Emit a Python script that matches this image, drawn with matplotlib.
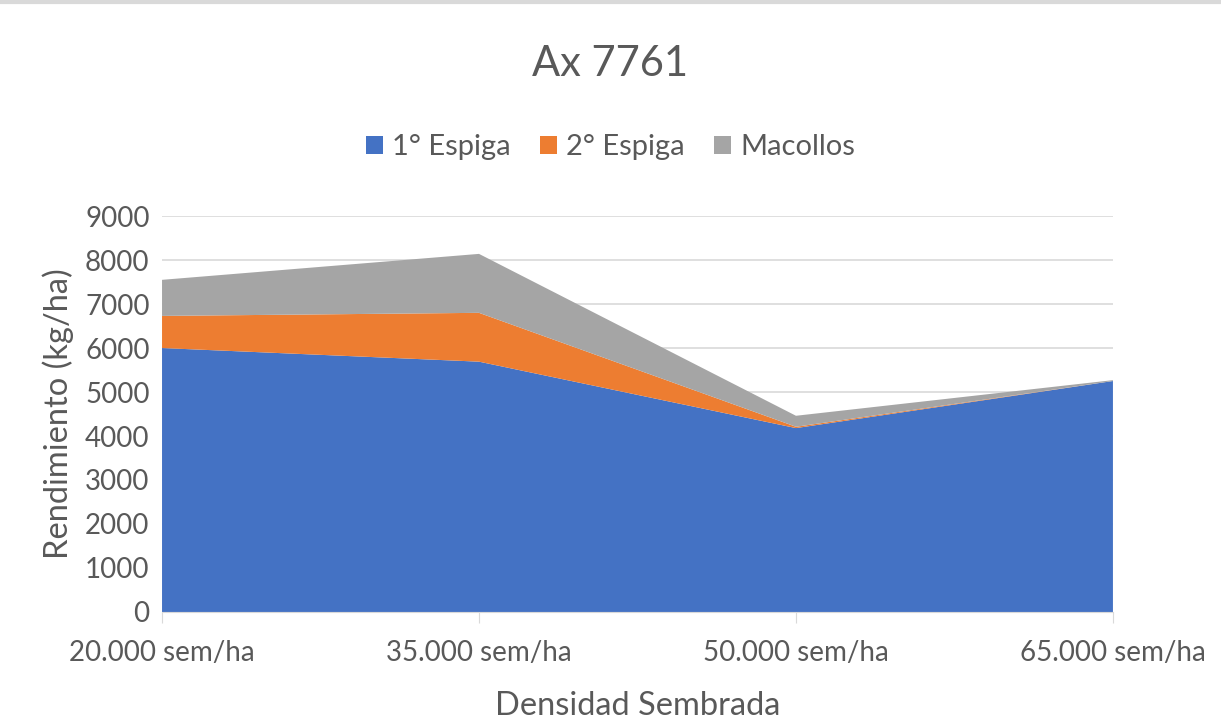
import matplotlib.pyplot as plt

# data
categorias = ['20.000 sem/ha', '35.000 sem/ha', '50.000 sem/ha', '65.000 sem/ha']
espiga1 = [6000, 5690, 4180, 5250]
espiga2 = [730, 1110, 30, 0]
macollos = [820, 1340, 250, 20]

plt.rcParams['font.family'] = ['Lato', 'DejaVu Sans']
txt = '#595959'

fig = plt.figure(figsize=(12.21, 7.25), dpi=100)
ax = fig.add_axes([0.1327, 0.1559, 0.7788, 0.5461])

x = range(len(categorias))
ax.stackplot(x, espiga1, espiga2, macollos,
             colors=['#4472C4', '#ED7D31', '#A5A5A5'],
             labels=['1° Espiga', '2° Espiga', 'Macollos'], zorder=2)

ax.set_xlim(0, 3)
ax.set_ylim(0, 9000)
ax.set_yticks(range(0, 9001, 1000))
ax.set_xticks(list(x))
ax.set_xticklabels(categorias)
ax.grid(axis='y', color='#D9D9D9', linewidth=1.2, zorder=0)
for s in ['top', 'right', 'left']:
    ax.spines[s].set_visible(False)
ax.spines['bottom'].set_color('#D9D9D9')
ax.tick_params(axis='y', length=0, labelsize=20, labelcolor=txt, pad=9)
ax.tick_params(axis='x', length=8, color='#D9D9D9', labelsize=20, labelcolor=txt, pad=12)

ax.set_xlabel('Densidad Sembrada', fontsize=23.5, color=txt, labelpad=18)
ax.set_ylabel('Rendimiento (kg/ha)', fontsize=23.5, color=txt, labelpad=8)

fig.text(0.5, 0.912, 'Ax 7761', ha='center', va='center', fontsize=30, color=txt)
handles, labels = ax.get_legend_handles_labels()
fig.legend(handles, labels, loc='center', bbox_to_anchor=(0.5, 0.797), ncol=3,
           frameon=False, fontsize=21, labelcolor=txt, handlelength=0.6,
           handleheight=0.6, handletextpad=0.3, columnspacing=1.0)

# thin border line at the top of the picture
fig.add_artist(plt.Line2D([0, 1], [0.997, 0.997], color='#D9D9D9', linewidth=3,
                          transform=fig.transFigure))

fig.savefig('out.png', dpi=100)
